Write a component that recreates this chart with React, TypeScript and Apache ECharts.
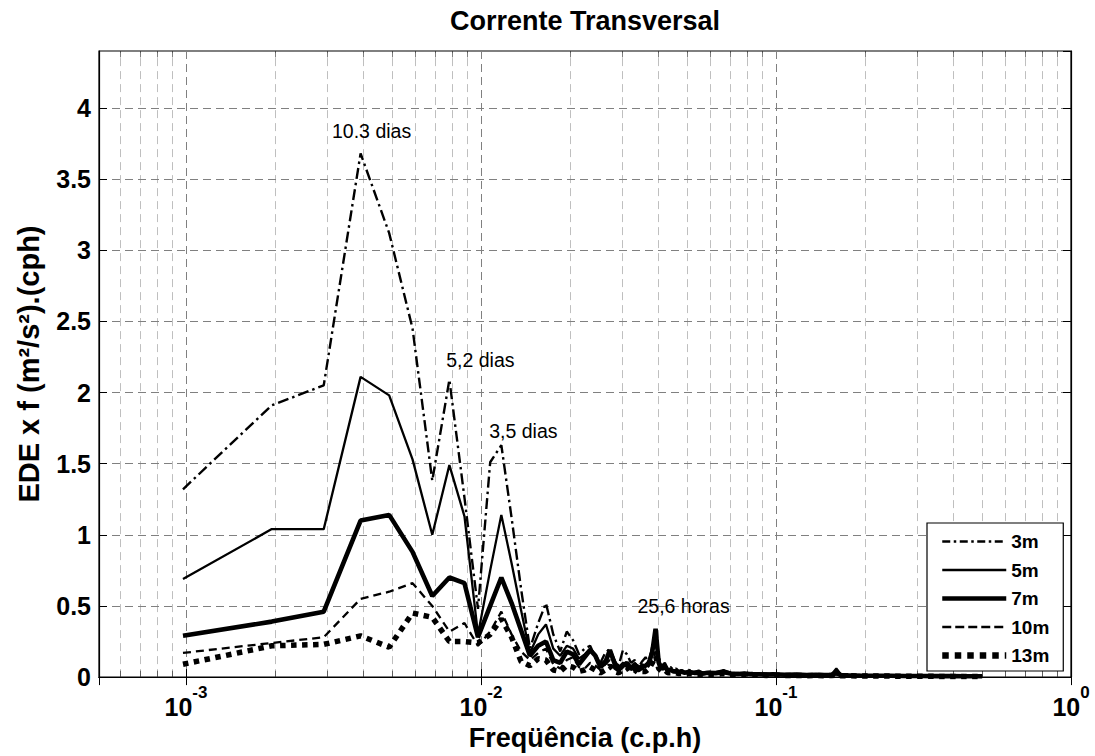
import React, { useEffect, useRef } from 'react';
import * as echarts from 'echarts';

// Spectral index k (frequency = k / 1024 cph)
const N_FFT = 1024;
const K_INDEX = [
  1, 2, 3, 4, 5, 6, 7, 8, 9, 10,
  11, 12, 13, 14, 15, 16, 17, 18, 19, 20,
  21, 22, 23, 24, 25, 26, 27, 28, 29, 30,
  31, 32, 33, 34, 35, 36, 37, 38, 39, 40,
  41, 42, 43, 44, 45, 46, 47, 48, 49, 50,
  52, 54, 56, 58, 60,
  64, 68, 72, 76, 80, 85, 90, 95, 100, 110, 120, 130, 140, 150, 158, 164, 170, 180, 200, 220, 250, 280, 320, 360, 400, 450, 512,
];

const S_3M = [
  1.32, 1.91, 2.05, 3.68, 3.12, 2.45, 1.38, 2.09, 1.26, 0.48,
  1.51, 1.63, 1.12, 0.62, 0.20, 0.38, 0.52, 0.30, 0.18, 0.32,
  0.26, 0.16, 0.20, 0.22, 0.14, 0.10, 0.17, 0.20, 0.12, 0.08,
  0.19, 0.16, 0.10, 0.12, 0.07, 0.11, 0.14, 0.10, 0.22, 0.26,
  0.14, 0.08, 0.10, 0.06, 0.07, 0.05, 0.06, 0.04, 0.05, 0.04,
  0.05, 0.035, 0.045, 0.03, 0.04,
  0.03, 0.045, 0.025, 0.03, 0.02, 0.03, 0.02, 0.025, 0.02, 0.018, 0.022, 0.015, 0.02, 0.015, 0.018, 0.02, 0.015, 0.012, 0.015, 0.012, 0.01, 0.012, 0.01, 0.01, 0.008, 0.01, 0.008,
];
const S_5M = [
  0.69, 1.04, 1.04, 2.11, 1.98, 1.53, 1.00, 1.49, 1.13, 0.30,
  0.75, 1.14, 0.80, 0.47, 0.17, 0.30, 0.37, 0.20, 0.15, 0.22,
  0.20, 0.13, 0.16, 0.20, 0.16, 0.09, 0.12, 0.18, 0.12, 0.07,
  0.10, 0.09, 0.06, 0.10, 0.07, 0.09, 0.08, 0.12, 0.20, 0.30,
  0.12, 0.07, 0.08, 0.05, 0.06, 0.04, 0.05, 0.04, 0.045, 0.035,
  0.04, 0.03, 0.035, 0.03, 0.03,
  0.035, 0.05, 0.03, 0.025, 0.03, 0.02, 0.025, 0.02, 0.022, 0.018, 0.02, 0.016, 0.018, 0.015, 0.02, 0.06, 0.018, 0.014, 0.012, 0.012, 0.01, 0.01, 0.01, 0.008, 0.008, 0.008, 0.007,
];
const S_7M = [
  0.29, 0.39, 0.46, 1.10, 1.14, 0.88, 0.57, 0.70, 0.66, 0.28,
  0.50, 0.70, 0.52, 0.33, 0.15, 0.22, 0.25, 0.12, 0.10, 0.18,
  0.16, 0.09, 0.14, 0.19, 0.15, 0.07, 0.10, 0.19, 0.10, 0.05,
  0.08, 0.10, 0.06, 0.09, 0.05, 0.07, 0.08, 0.10, 0.18, 0.34,
  0.10, 0.06, 0.07, 0.05, 0.05, 0.04, 0.04, 0.035, 0.04, 0.03,
  0.035, 0.03, 0.03, 0.025, 0.03,
  0.028, 0.035, 0.025, 0.022, 0.025, 0.02, 0.02, 0.018, 0.02, 0.016, 0.018, 0.014, 0.016, 0.014, 0.016, 0.03, 0.014, 0.012, 0.01, 0.01, 0.009, 0.008, 0.008, 0.007, 0.007, 0.006, 0.006,
];
const S_10M = [
  0.17, 0.24, 0.28, 0.55, 0.60, 0.66, 0.50, 0.32, 0.38, 0.22,
  0.32, 0.46, 0.30, 0.18, 0.12, 0.17, 0.20, 0.09, 0.06, 0.12,
  0.14, 0.07, 0.06, 0.10, 0.08, 0.05, 0.09, 0.12, 0.06, 0.04,
  0.07, 0.10, 0.05, 0.07, 0.04, 0.06, 0.05, 0.08, 0.12, 0.18,
  0.08, 0.05, 0.06, 0.04, 0.04, 0.03, 0.035, 0.03, 0.03, 0.025,
  0.03, 0.025, 0.025, 0.02, 0.025,
  0.022, 0.03, 0.02, 0.018, 0.02, 0.016, 0.016, 0.015, 0.016, 0.014, 0.014, 0.012, 0.013, 0.012, 0.013, 0.02, 0.012, 0.01, 0.009, 0.009, 0.008, 0.007, 0.007, 0.006, 0.006, 0.005, 0.005,
];
const S_13M = [
  0.09, 0.22, 0.23, 0.29, 0.21, 0.45, 0.42, 0.25, 0.25, 0.24,
  0.30, 0.41, 0.28, 0.11, 0.08, 0.13, 0.12, 0.05, 0.04, 0.08,
  0.07, 0.04, 0.05, 0.07, 0.05, 0.03, 0.05, 0.08, 0.04, 0.03,
  0.05, 0.07, 0.03, 0.05, 0.03, 0.04, 0.04, 0.06, 0.10, 0.15,
  0.06, 0.04, 0.05, 0.03, 0.03, 0.025, 0.03, 0.025, 0.025, 0.02,
  0.025, 0.02, 0.02, 0.018, 0.02,
  0.018, 0.025, 0.016, 0.015, 0.016, 0.014, 0.014, 0.012, 0.013, 0.012, 0.012, 0.01, 0.011, 0.01, 0.011, 0.015, 0.01, 0.009, 0.008, 0.008, 0.007, 0.006, 0.006, 0.005, 0.005, 0.005, 0.004,
];

const SERIES_NAMES = ['3m', '5m', '7m', '10m', '13m'];

// Annotations: [label, series name, k index, value, dx, dy]
const ANNOTATIONS: [string, string, number, number, number, number][] = [
  ['10.3 dias', '3m', 4, 3.68, 11, -22],
  ['5,2 dias', '3m', 8, 2.09, 31, -20],
  ['3,5 dias', '3m', 12, 1.63, 22, -14],
  ['25,6 horas', '7m', 40, 0.34, 28, -23],
];

const X_MIN = 0.000507;
const X_MAX = 1;
const Y_MIN = 0;
const Y_MAX = 4.4;
const Y_STEP = 0.5;
const MINOR_MULT = [2, 3, 4, 5, 6, 7, 8, 9];
const DECADES = [-4, -3, -2, -1];

const FONT = 'Liberation Sans, Arial, Helvetica, sans-serif';

export default function App() {
  const ref = useRef<HTMLDivElement>(null);
  useEffect(() => {
    if (!ref.current) return;
    const chart = echarts.init(ref.current, undefined, { renderer: 'svg' });
    const freq = K_INDEX.map((k) => k / N_FFT);
    const pairs = (vals: number[]) => vals.map((v, i) => [freq[i], v]);

    const minorPos: number[] = [];
    DECADES.forEach((d) => MINOR_MULT.forEach((m) => {
      const f = m * Math.pow(10, d);
      if (f > X_MIN && f < X_MAX) minorPos.push(f);
    }));
    const gridStyle = { color: '#808080', type: [8, 5] as any, width: 1 };
    const tickLen = 0.045;

    const gridLines = minorPos.map((f) => ({ coords: [[f, Y_MIN], [f, Y_MAX]] }));
    const tickLines: any[] = [];
    minorPos.forEach((f) => {
      tickLines.push({ coords: [[f, Y_MIN], [f, Y_MIN + tickLen]] });
      tickLines.push({ coords: [[f, Y_MAX], [f, Y_MAX - tickLen]] });
    });

    const styles: Record<string, any> = {
      '3m': { color: '#000', width: 2.4, type: [11, 4, 2.5, 4] },
      '5m': { color: '#000', width: 2.3, type: 'solid' },
      '7m': { color: '#000', width: 4.6, type: 'solid' },
      '10m': { color: '#000', width: 2.3, type: [8, 5] },
      '13m': { color: '#000', width: 5.5, type: [5.5, 5.5], cap: 'butt' },
    };
    const legendStyles: Record<string, any> = {
      '3m': { color: '#000', width: 2.4, type: [8, 3.5, 2.5, 3.5], cap: 'butt' },
      '5m': { color: '#000', width: 2.6, type: 'solid' },
      '7m': { color: '#000', width: 4.6, type: 'solid' },
      '10m': { color: '#000', width: 2.6, type: [9, 4], cap: 'butt' },
      '13m': { color: '#000', width: 6.5, type: [6.5, 6], cap: 'butt' },
    };
    const dataMap: Record<string, number[]> = {
      '3m': S_3M, '5m': S_5M, '7m': S_7M, '10m': S_10M, '13m': S_13M,
    };

    const series: any[] = [
      {
        name: 'minorGrid',
        type: 'lines',
        coordinateSystem: 'cartesian2d',
        silent: true,
        z: 1,
        lineStyle: gridStyle,
        data: gridLines,
      },
      {
        name: 'minorTicks',
        type: 'lines',
        coordinateSystem: 'cartesian2d',
        silent: true,
        z: 1,
        lineStyle: { color: '#000', width: 1, type: 'solid' },
        data: tickLines,
      },
    ];
    SERIES_NAMES.forEach((name) => {
      const ann = ANNOTATIONS.filter((a) => a[1] === name);
      series.push({
        name,
        type: 'line',
        data: pairs(dataMap[name]),
        symbol: 'none',
        showSymbol: false,
        lineStyle: styles[name],
        itemStyle: { color: '#000' },
        emphasis: { disabled: true },
        z: 3,
        markPoint: ann.length
          ? {
              symbol: 'circle',
              symbolSize: 1,
              itemStyle: { color: 'rgba(0,0,0,0)' },
              silent: true,
              data: ann.map((a) => ({
                coord: [a[2] / N_FFT, a[3]],
                label: {
                  show: true,
                  formatter: a[0],
                  position: 'inside',
                  offset: [a[4], a[5]],
                  color: '#000',
                  fontSize: 19.5,
                  fontFamily: FONT,
                },
              })),
            }
          : undefined,
      });
    });

    const xLabel = {
      show: true,
      margin: 7,
      formatter: (v: number) => `{b|10}{s|${Math.round(Math.log10(v))}}`,
      showMinLabel: false,
      rich: {
        b: { fontSize: 25, fontWeight: 'bold', fontFamily: FONT, color: '#000', padding: [10, 0, 0, 0] },
        s: { fontSize: 17, fontWeight: 'bold', fontFamily: FONT, color: '#000', verticalAlign: 'top' },
      },
    };

    chart.setOption({
      animation: false,
      backgroundColor: '#fff',
      grid: { left: 99, right: 24, top: 51, bottom: 78, show: true, borderColor: '#000', borderWidth: 1.2, backgroundColor: '#fff' },
      graphic: [
        {
          type: 'text',
          x: 585,
          y: 21,
          style: {
            text: 'Corrente Transversal',
            align: 'center',
            verticalAlign: 'middle',
            fontSize: 27,
            fontWeight: 'bold',
            fontFamily: FONT,
            fill: '#000',
          },
        },
      ],
      legend: {
        data: SERIES_NAMES.map((n) => ({ name: n, lineStyle: legendStyles[n] })),
        orient: 'vertical',
        left: 927,
        top: 523,
        itemWidth: 64,
        itemHeight: 17,
        itemGap: 9.5,
        padding: [9, 14, 6, 12],
        backgroundColor: '#fff',
        borderColor: '#000',
        borderWidth: 1.2,
        borderRadius: 0,
        selectedMode: false,
        itemStyle: { opacity: 0 },
        textStyle: { fontSize: 19, fontWeight: 'bold', fontFamily: FONT, color: '#000' },
      },
      xAxis: [
        {
          type: 'log',
          logBase: 10,
          min: X_MIN,
          max: X_MAX,
          name: 'Freqüência (c.p.h)',
          nameLocation: 'middle',
          nameGap: 44,
          nameTextStyle: { fontSize: 27, fontWeight: 'bold', fontFamily: FONT, color: '#000' },
          axisLine: { show: true, lineStyle: { color: '#000', width: 1.2 } },
          axisTick: { show: true, inside: true, length: 8, lineStyle: { color: '#000' } },
          axisLabel: xLabel,
          splitLine: { show: true, lineStyle: gridStyle },
          minorTick: { show: false },
        },
        {
          type: 'log',
          logBase: 10,
          min: X_MIN,
          max: X_MAX,
          position: 'top',
          axisLine: { show: true, lineStyle: { color: '#000', width: 1.2 } },
          axisTick: { show: true, inside: true, length: 8, lineStyle: { color: '#000' } },
          axisLabel: { show: false },
          splitLine: { show: false },
        },
      ],
      yAxis: [
        {
          type: 'value',
          min: Y_MIN,
          max: Y_MAX,
          interval: Y_STEP,
          name: 'EDE x f (m²/s²).(cph)',
          nameLocation: 'middle',
          nameRotate: 90,
          nameGap: 56,
          nameTextStyle: { fontSize: 29, fontWeight: 'bold', fontFamily: FONT, color: '#000' },
          axisLine: { show: true, lineStyle: { color: '#000', width: 1.2 } },
          axisTick: { show: true, inside: true, length: 8, lineStyle: { color: '#000' } },
          axisLabel: {
            show: true,
            margin: 8,
            showMaxLabel: false,
            fontSize: 25,
            fontWeight: 'bold',
            fontFamily: FONT,
            color: '#000',
          },
          splitLine: { show: true, lineStyle: gridStyle },
        },
        {
          type: 'value',
          min: Y_MIN,
          max: Y_MAX,
          interval: Y_STEP,
          position: 'right',
          axisLine: { show: true, lineStyle: { color: '#000', width: 1.2 } },
          axisTick: { show: true, inside: true, length: 8, lineStyle: { color: '#000' } },
          axisLabel: { show: false },
          splitLine: { show: false },
        },
      ],
      series,
    });
    return () => chart.dispose();
  }, []);
  return (
    <div
      ref={ref}
      style={{ position: 'fixed', left: 0, top: 0, width: 1095, height: 756, background: '#fff' }}
    />
  );
}
